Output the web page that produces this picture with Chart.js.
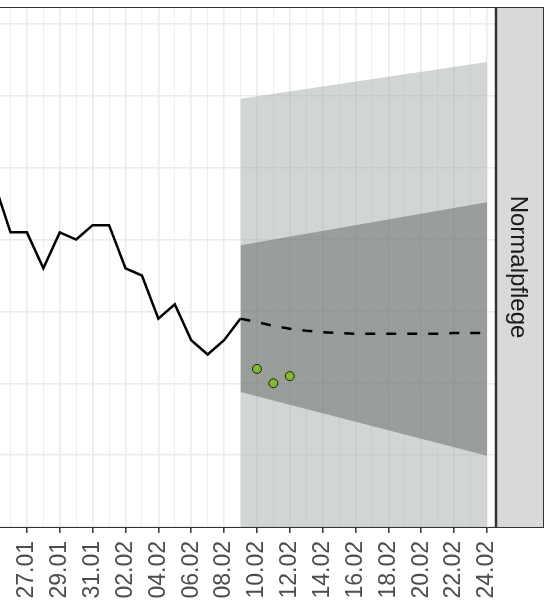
<!DOCTYPE html>
<html>
<head>
<meta charset="utf-8">
<script src="https://cdn.jsdelivr.net/npm/chart.js@4.4.1/dist/chart.umd.min.js"></script>
<style>
  body{ margin:0; background:#fff; }
  #wrap{ position:relative; width:544px; height:605px; overflow:hidden; }
  #chart{ position:absolute; left:-60px; top:0; }
</style>
</head>
<body>
<div id="wrap"><canvas id="chart" width="604" height="605"></canvas></div>
<script>
// days are counted from 10.02 (day 0)
const tickLabels = ["23.01","25.01","27.01","29.01","31.01","02.02","04.02","06.02","08.02",
                    "10.02","12.02","14.02","16.02","18.02","20.02","22.02","24.02"];
const firstTickDay = -18;

const historyDays   = [-16,-15,-14,-13,-12,-11,-10,-9,-8,-7,-6,-5,-4,-3,-2,-1];
const historyValues = [4.8,4.1,4.1,3.6,4.1,4.0,4.2,4.2,3.6,3.5,2.9,3.1,2.6,2.4,2.6,2.9];

const forecastDays   = [-1,0,1,2,3,4,5,6,7,8,9,10,11,12,13,14];
const forecastValues = [2.9,2.85,2.8,2.76,2.73,2.71,2.7,2.69,2.69,2.69,2.69,2.69,2.69,2.7,2.7,2.7];

const bandDays   = [-1,14];
const outerUpper = [5.96,6.47];
const innerUpper = [3.92,4.52];
const innerLower = [1.88,0.99];
const outerLower = [-0.17,-1.07];

const observedDays   = [0,1,2];
const observedValues = [2.2,2.0,2.1];

const stripLabel = "Normalpflege";

const FONT = "'Liberation Sans', Arial, sans-serif";

function toPoints(xs, ys){
    return xs.map((x,i) => ({ x:x, y:ys[i] }));
}

function isMajor(v){
    return (v - firstTickDay) % 2 === 0;
}

const panelFrame = {
    id:'panelFrame',
    afterDraw(chart){
        const {ctx, chartArea:a, width} = chart;
        ctx.save();
        // facet strip
        ctx.fillStyle = '#d9d9d9';
        ctx.fillRect(a.right, a.top, width - a.right, a.bottom - a.top);
        ctx.strokeStyle = '#333333';
        ctx.lineWidth = 1;
        ctx.strokeRect(a.right + 0.5, a.top + 0.5, width - a.right - 1, a.bottom - a.top);
        // panel border
        ctx.beginPath();
        ctx.moveTo(a.left, a.top + 0.5);
        ctx.lineTo(width, a.top + 0.5);
        ctx.stroke();
        ctx.lineWidth = 2.5;
        ctx.beginPath();
        ctx.moveTo(a.right, a.top);
        ctx.lineTo(a.right, a.bottom);
        ctx.stroke();
        ctx.lineWidth = 1;
        ctx.beginPath();
        ctx.moveTo(a.left, a.bottom + 0.5);
        ctx.lineTo(a.right, a.bottom + 0.5);
        ctx.stroke();
        // strip text, rotated clockwise
        ctx.translate(a.right + 15, (a.top + a.bottom) / 2);
        ctx.rotate(Math.PI / 2);
        ctx.fillStyle = '#1a1a1a';
        ctx.font = '24px ' + FONT;
        ctx.textAlign = 'center';
        ctx.textBaseline = 'alphabetic';
        ctx.fillText(stripLabel, 0, 0);
        ctx.restore();
    }
};

window.addEventListener("load", function(){
    createChart();
});

function createChart(){

    new Chart(document.getElementById("chart"),{
        type:"line",
        data:{
            datasets:[
                {
                    data:toPoints(observedDays, observedValues),
                    showLine:false,
                    pointRadius:4.5,
                    pointBackgroundColor:"#7fba27",
                    pointBorderColor:"#1a1a1a",
                    pointBorderWidth:1,
                    order:1
                },
                {
                    data:toPoints(historyDays, historyValues),
                    borderColor:"#000000",
                    borderWidth:2.5,
                    pointRadius:0,
                    tension:0,
                    order:2
                },
                {
                    data:toPoints(forecastDays, forecastValues),
                    borderColor:"#000000",
                    borderWidth:2.5,
                    borderDash:[10,11],
                    pointRadius:0,
                    tension:0,
                    order:3
                },
                {
                    data:toPoints(bandDays, innerUpper),
                    borderWidth:0,
                    pointRadius:0,
                    fill:4,
                    backgroundColor:"rgba(70,75,72,0.4)",
                    order:4
                },
                {
                    data:toPoints(bandDays, innerLower),
                    borderWidth:0,
                    pointRadius:0,
                    fill:false,
                    order:5
                },
                {
                    data:toPoints(bandDays, outerUpper),
                    borderWidth:0,
                    pointRadius:0,
                    fill:6,
                    backgroundColor:"rgba(164,173,167,0.5)",
                    order:6
                },
                {
                    data:toPoints(bandDays, outerLower),
                    borderWidth:0,
                    pointRadius:0,
                    fill:false,
                    order:7
                }
            ]
        },
        options:{
            animation:false,
            responsive:false,
            layout:{ autoPadding:false, padding:{ left:0, right:48, top:7, bottom:0 } },
            plugins:{
                legend:{ display:false },
                tooltip:{ enabled:false }
            },
            scales:{
                x:{
                    type:"linear",
                    min:-19.29,
                    max:14.55,
                    afterFit: s => { s.height = 78; s.paddingLeft = 0; s.paddingRight = 0; },
                    border:{ display:true, color:"#333333", width:1 },
                    grid:{
                        color:"#ebebeb",
                        lineWidth: c => isMajor(c.tick.value) ? 1.6 : 0.8,
                        tickLength:6,
                        tickColor: c => isMajor(c.tick.value) ? "#333333" : "rgba(0,0,0,0)",
                        tickWidth:1.5
                    },
                    ticks:{
                        stepSize:1,
                        maxTicksLimit:100,
                        autoSkip:false,
                        includeBounds:false,
                        minRotation:90,
                        maxRotation:90,
                        padding:8,
                        color:"#4d4d4d",
                        font:{ family:FONT, size:23 },
                        callback: v => isMajor(v) ? tickLabels[(v - firstTickDay) / 2] : ""
                    }
                },
                y:{
                    min:0,
                    max:7.236,
                    afterFit: s => { s.width = 0; s.paddingTop = 0; s.paddingBottom = 0; },
                    border:{ display:false },
                    grid:{ color:"#ebebeb", lineWidth:1.4, drawTicks:false },
                    ticks:{ display:false, stepSize:1, includeBounds:false }
                }
            }
        },
        plugins:[panelFrame]
    });

}
</script>
</body>
</html>
